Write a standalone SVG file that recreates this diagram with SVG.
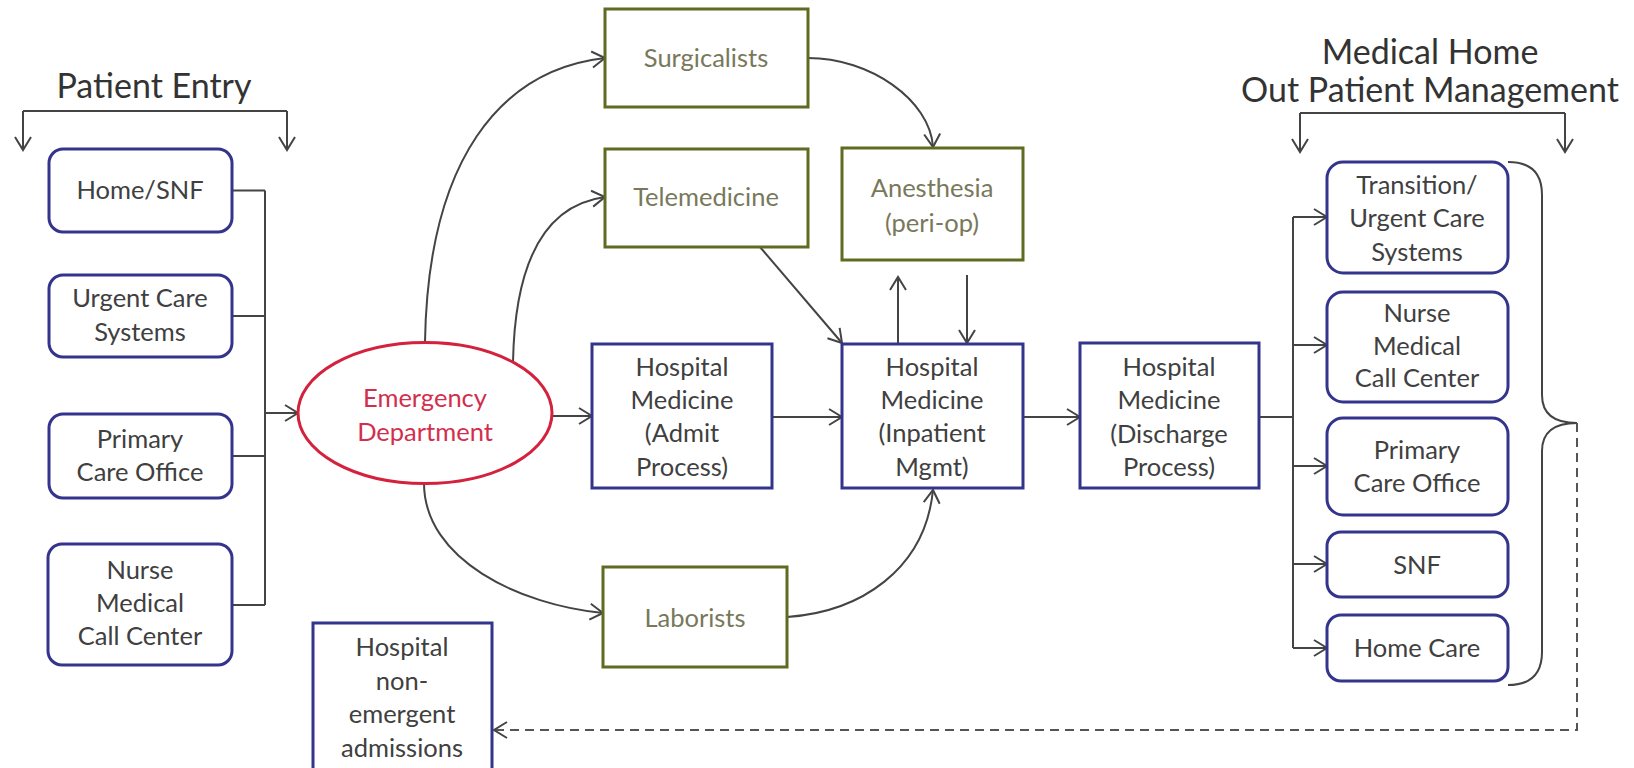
<svg xmlns="http://www.w3.org/2000/svg" width="1634" height="768" viewBox="0 0 1634 768">
<defs>
<style>
.bx{fill:#fff;stroke:#34348c;stroke-width:3}
.ol{fill:#fff;stroke:#5f6b21;stroke-width:3}
.t{font-family:Lato,"Open Sans",sans-serif;font-size:25.5px;fill:#404040;text-anchor:middle}
.to{font-family:Lato,"Open Sans",sans-serif;font-size:25.5px;fill:#78785a;text-anchor:middle}
.te{font-family:Lato,"Open Sans",sans-serif;font-size:25.5px;fill:#d22f4f;text-anchor:middle}
.title{font-family:Lato,"Open Sans",sans-serif;font-size:34px;fill:#333;text-anchor:middle}
.c{fill:none;stroke:#444;stroke-width:2}
.ca{fill:none;stroke:#444;stroke-width:2;marker-end:url(#ah)}
.cd{fill:none;stroke:#555;stroke-width:2;stroke-dasharray:9 6;marker-end:url(#ah)}
</style>
<marker id="ah" markerUnits="userSpaceOnUse" markerWidth="16" markerHeight="20" refX="13" refY="8" orient="auto" overflow="visible">
<path d="M0,0 L13,8 L0,16" fill="none" stroke="#444" stroke-width="2"/>
</marker>
</defs>
<rect width="1634" height="768" fill="#fff"/>

<g id="title-entry"><text class="title" x="154" y="98">Patient Entry</text></g>
<g id="title-home"><text class="title" x="1430" y="64">Medical Home</text><text class="title" x="1430" y="102">Out Patient Management</text></g>

<g id="connectors">
<path class="c" d="M23,111 H287"/>
<path class="ca" d="M23,111 V150"/>
<path class="ca" d="M287,111 V150"/>
<path class="c" d="M1300,113 H1565"/>
<path class="ca" d="M1300,113 V152"/>
<path class="ca" d="M1565,113 V152"/>
<path class="c" d="M232,190.5 H265 M232,316 H265 M232,456 H265 M232,605 H265 M265,190.5 V605"/>
<path class="ca" d="M265,413 H298"/>
<path class="ca" d="M552,416 H592"/>
<path class="ca" d="M772,417 H842"/>
<path class="ca" d="M1023,417 H1080"/>
<path class="c" d="M1259,417 H1293 M1293,217 V648"/>
<path class="ca" d="M1293,217 H1327"/>
<path class="ca" d="M1293,345 H1327"/>
<path class="ca" d="M1293,466 H1327"/>
<path class="ca" d="M1293,564 H1327"/>
<path class="ca" d="M1293,648 H1327"/>
<path class="ca" d="M425,342 C428,160 500,70 605,58"/>
<path class="ca" d="M513,362 C515,260 545,205 605,197"/>
<path class="ca" d="M760,247 L842,343"/>
<path class="ca" d="M808,58 C870,58 930,100 933,147"/>
<path class="ca" d="M898,344 V277"/>
<path class="ca" d="M967,275 V343"/>
<path class="ca" d="M424,483 C424,560 520,605 603,613"/>
<path class="ca" d="M787,617 C860,612 925,570 933,490"/>
<path class="c" d="M1508,162 Q1542,162 1542,195 V395 Q1542,423 1577,423 Q1542,423 1542,451 V652 Q1542,685 1508,685"/>
<path class="cd" d="M1577,423 V730 H494"/>
</g>

<g id="home-snf"><rect class="bx" x="49" y="149" width="183" height="83" rx="14"/><text class="t" x="140" y="199">Home/SNF</text></g>
<g id="urgent-care"><rect class="bx" x="49" y="275" width="183" height="82" rx="14"/><text class="t" x="140" y="307">Urgent Care</text><text class="t" x="140" y="341">Systems</text></g>
<g id="primary-care"><rect class="bx" x="49" y="414" width="183" height="84" rx="14"/><text class="t" x="140" y="448">Primary</text><text class="t" x="140" y="481">Care Office</text></g>
<g id="nurse-call"><rect class="bx" x="48" y="544" width="184" height="121" rx="14"/><text class="t" x="140" y="579">Nurse</text><text class="t" x="140" y="612">Medical</text><text class="t" x="140" y="645">Call Center</text></g>

<g id="ed"><ellipse cx="425" cy="413" rx="127" ry="70.5" fill="#fff" stroke="#d4213d" stroke-width="3"/><text class="te" x="425" y="407">Emergency</text><text class="te" x="425" y="441">Department</text></g>

<g id="surgicalists"><rect class="ol" x="605" y="9" width="203" height="98"/><text class="to" x="706" y="67">Surgicalists</text></g>
<g id="telemedicine"><rect class="ol" x="605" y="149" width="203" height="98"/><text class="to" x="706" y="206">Telemedicine</text></g>
<g id="anesthesia"><rect class="ol" x="842" y="148" width="181" height="112"/><text class="to" x="932" y="197">Anesthesia</text><text class="to" x="932" y="232">(peri-op)</text></g>
<g id="laborists"><rect class="ol" x="603" y="567" width="184" height="100"/><text class="to" x="695" y="627">Laborists</text></g>

<g id="admit"><rect class="bx" x="592" y="344" width="180" height="144"/><text class="t" x="682" y="376">Hospital</text><text class="t" x="682" y="409">Medicine</text><text class="t" x="682" y="442">(Admit</text><text class="t" x="682" y="476">Process)</text></g>
<g id="inpatient"><rect class="bx" x="842" y="344" width="181" height="144"/><text class="t" x="932" y="376">Hospital</text><text class="t" x="932" y="409">Medicine</text><text class="t" x="932" y="442">(Inpatient</text><text class="t" x="932" y="476">Mgmt)</text></g>
<g id="discharge"><rect class="bx" x="1080" y="343" width="179" height="145"/><text class="t" x="1169" y="376">Hospital</text><text class="t" x="1169" y="409">Medicine</text><text class="t" x="1169" y="443">(Discharge</text><text class="t" x="1169" y="476">Process)</text></g>

<g id="non-emergent"><rect class="bx" x="313" y="623" width="179" height="160"/><text class="t" x="402" y="656">Hospital</text><text class="t" x="402" y="690">non-</text><text class="t" x="402" y="723">emergent</text><text class="t" x="402" y="757">admissions</text></g>

<g id="transition"><rect class="bx" x="1327" y="162" width="181" height="111" rx="16"/><text class="t" x="1417" y="194">Transition/</text><text class="t" x="1417" y="227">Urgent Care</text><text class="t" x="1417" y="261">Systems</text></g>
<g id="nurse-right"><rect class="bx" x="1327" y="292" width="181" height="110" rx="16"/><text class="t" x="1417" y="322">Nurse</text><text class="t" x="1417" y="355">Medical</text><text class="t" x="1417" y="387">Call Center</text></g>
<g id="primary-right"><rect class="bx" x="1327" y="418" width="181" height="97" rx="16"/><text class="t" x="1417" y="459">Primary</text><text class="t" x="1417" y="492">Care Office</text></g>
<g id="snf"><rect class="bx" x="1327" y="532" width="181" height="65" rx="14"/><text class="t" x="1417" y="574">SNF</text></g>
<g id="home-care"><rect class="bx" x="1327" y="615" width="181" height="66" rx="14"/><text class="t" x="1417" y="657">Home Care</text></g>
</svg>
